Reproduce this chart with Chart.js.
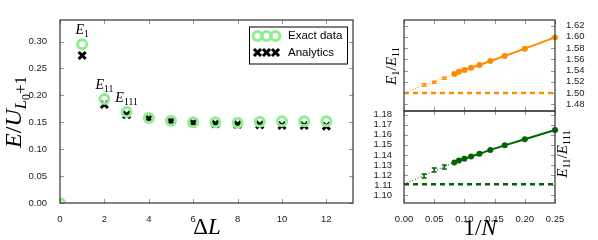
<!DOCTYPE html>
<html>
<head>
<meta charset="utf-8">
<script src="https://cdn.jsdelivr.net/npm/chart.js@4.4.0/dist/chart.umd.min.js"></script>
<style>
    html, body { margin: 0; padding: 0; background: #fff; }
    #wrap { position: relative; width: 598px; height: 240px; }
    #wrap canvas { position: absolute; left: 0; top: 0; }
</style>
</head>
<body>
<div id="wrap">
    <canvas id="gapChart" width="598" height="240"></canvas>
    <canvas id="ratioTop" width="598" height="240"></canvas>
    <canvas id="ratioBottom" width="598" height="240"></canvas>
</div>
<script>
// left panel: energies vs ΔL
const deltaL = [0, 1, 2, 3, 4, 5, 6, 7, 8, 9, 10, 11, 12];
const exactData = [0.000, 0.295, 0.193, 0.169, 0.158, 0.153, 0.150, 0.150, 0.149, 0.151, 0.152, 0.152, 0.152];
const analytics = [null, 0.274, 0.183, 0.164, 0.157, 0.152, 0.149, 0.147, 0.146, 0.145, 0.144, 0.144, 0.143];
const peakLabels = ['1', '11', '111']; // E_1, E_11, E_111 at ΔL = 1, 2, 3

// right panels: ratios vs 1/N
const invN = [0.0833, 0.0909, 0.1, 0.1111, 0.125, 0.1429, 0.1667, 0.2, 0.25];
const ratio1 = [1.534, 1.538, 1.541, 1.545, 1.550, 1.557, 1.566, 1.579, 1.599];
const ratio2 = [1.1326, 1.1345, 1.1362, 1.1385, 1.1411, 1.1450, 1.1495, 1.1555, 1.1647];
const invNErr = [0.0333, 0.05, 0.0667];
const ratio1Err = [1.5145, 1.519, 1.5265];
const ratio1ErrSize = [0.0018, 0.0018, 0.0018];
const ratio2Err = [1.119, 1.125, 1.128];
const ratio2ErrSize = [0.002, 0.002, 0.002];
const limitX = [0, 0.25];
const ratio1Limit = 1.500;
const ratio2Limit = 1.111;

const ORANGE = '#ff8c00';
const GREEN = '#006400';
const LIGHTGREEN = '#90ee90';
const SERIF = '"Liberation Serif", "DejaVu Serif", serif';

Chart.defaults.font.family = '"Liberation Sans", Arial, sans-serif';
Chart.defaults.font.size = 9.5;
Chart.defaults.color = '#222';

const pts = (xs, ys) => xs.map((x, i) => ({ x: x, y: ys[i] })).filter(p => p.y !== null);

// text with subscripts; segs = [text, level, italic]; (cx, cy) = middle of the main glyphs
function drawMath(ctx, segs, cx, cy, size, rot) {
    const scale = [1, 0.7, 0.5];
    const drop = [0, 0.22, 0.36];
    ctx.save();
    ctx.translate(cx, cy);
    if (rot) ctx.rotate(rot);
    let w = 0;
    const parts = segs.map(([t, lv, it]) => {
        const f = (it ? 'italic ' : '') + (size * scale[lv]) + 'px ' + SERIF;
        ctx.font = f;
        const p = { t: t, f: f, x: w, dy: size * drop[lv] };
        w += ctx.measureText(t).width;
        return p;
    });
    ctx.fillStyle = '#000';
    ctx.textAlign = 'left';
    ctx.textBaseline = 'alphabetic';
    parts.forEach(p => {
        ctx.font = p.f;
        ctx.fillText(p.t, p.x - w / 2, size * 0.34 + p.dy);
    });
    ctx.restore();
}

// box + inward ticks on all sides
const framePlugin = {
    id: 'frame',
    afterDatasetsDraw(chart) {
        const { ctx, chartArea: a, scales } = chart;
        const tl = 4;
        ctx.save();
        ctx.strokeStyle = '#999';
        ctx.lineWidth = 1;
        ctx.beginPath();
        scales.x.ticks.forEach(t => {
            const px = Math.round(scales.x.getPixelForValue(t.value)) + 0.5;
            ctx.moveTo(px, a.top); ctx.lineTo(px, a.top + tl);
            ctx.moveTo(px, a.bottom); ctx.lineTo(px, a.bottom - tl);
        });
        scales.y.ticks.forEach(t => {
            const py = Math.round(scales.y.getPixelForValue(t.value)) + 0.5;
            ctx.moveTo(a.left, py); ctx.lineTo(a.left + tl, py);
            ctx.moveTo(a.right, py); ctx.lineTo(a.right - tl, py);
        });
        ctx.stroke();
        ctx.strokeStyle = '#333';
        ctx.lineWidth = 1.2;
        ctx.strokeRect(a.left, a.top, a.right - a.left, a.bottom - a.top);
        ctx.restore();
    }
};

const errBars = {
    id: 'errBars',
    afterDatasetsDraw(chart) {
        const { ctx, scales: { x, y } } = chart;
        chart.data.datasets.forEach(ds => {
            if (!ds.errors) return;
            ctx.save();
            ctx.strokeStyle = ds.borderColor;
            ctx.lineWidth = 1.5;
            ds.data.forEach((p, i) => {
                const px = x.getPixelForValue(p.x);
                const top = y.getPixelForValue(p.y + ds.errors[i]);
                const bot = y.getPixelForValue(p.y - ds.errors[i]);
                ctx.beginPath();
                ctx.moveTo(px, top); ctx.lineTo(px, bot);
                ctx.moveTo(px - 2.5, top); ctx.lineTo(px + 2.5, top);
                ctx.moveTo(px - 2.5, bot); ctx.lineTo(px + 2.5, bot);
                ctx.stroke();
            });
            ctx.restore();
        });
    }
};

function marker(ctx, ds, x, y) {
    ctx.save();
    ctx.strokeStyle = ds.pointBorderColor;
    ctx.lineWidth = ds.pointBorderWidth;
    ctx.beginPath();
    if (ds.pointStyle === 'crossRot') {
        const o = ds.pointRadius * Math.SQRT1_2;
        ctx.moveTo(x - o, y - o); ctx.lineTo(x + o, y + o);
        ctx.moveTo(x - o, y + o); ctx.lineTo(x + o, y - o);
    } else {
        ctx.arc(x, y, ds.pointRadius, 0, Math.PI * 2);
    }
    ctx.stroke();
    ctx.restore();
}

const legendBox = {
    id: 'legendBox',
    afterDraw(chart) {
        const { ctx, chartArea: a } = chart;
        const x0 = a.right - 104, y0 = a.top + 6.5;
        ctx.save();
        ctx.fillStyle = '#fff';
        ctx.fillRect(x0, y0, 98.5, 37.5);
        ctx.strokeStyle = '#000';
        ctx.lineWidth = 1;
        ctx.strokeRect(x0 + 0.5, y0 + 0.5, 98, 37);
        ctx.font = '11.5px "Liberation Sans", Arial, sans-serif';
        ctx.fillStyle = '#000';
        ctx.textBaseline = 'middle';
        chart.data.datasets.forEach((ds, i) => {
            const cy = y0 + 9.5 + i * 16.5;
            for (let k = 0; k < 3; k++) marker(ctx, ds, x0 + 8.5 + k * 9, cy);
            ctx.fillText(ds.label, x0 + 39, cy);
        });
        ctx.restore();
    }
};

const leftLabels = {
    id: 'leftLabels',
    afterDraw(chart) {
        const { ctx, scales: { x, y } } = chart;
        peakLabels.forEach((s, i) => {
            const px = x.getPixelForValue(deltaL[i + 1]);
            const py = y.getPixelForValue(exactData[i + 1]);
            drawMath(ctx, [['E', 0, true], [s, 1, false]], px, py - 15, 14, 0);
        });
        drawMath(ctx, [['E', 0, true], ['/', 0, false], ['U', 0, true], ['L', 1, true], ['0', 2, false], ['+1', 1, false]], 13, 112, 24, -Math.PI / 2);
        drawMath(ctx, [['\u0394', 0, false], ['L', 0, true]], 207, 226, 23, 0);
    }
};

const xRight = {
    type: 'linear', min: 0, max: 0.25,
    ticks: { stepSize: 0.05, includeBounds: false, autoSkip: false, padding: 3, callback: v => v.toFixed(2) },
    grid: { display: false }, border: { display: false }
};

const baseOpts = {
    responsive: false,
    animation: false,
    devicePixelRatio: 1,
    events: [],
    plugins: { legend: { display: false }, tooltip: { enabled: false } }
};

new Chart(document.getElementById('gapChart'), {
    type: 'scatter',
    data: {
        datasets: [
            {
                label: 'Exact data',
                data: pts(deltaL, exactData),
                pointStyle: 'circle', pointRadius: 4.5, pointBorderWidth: 3,
                pointBorderColor: LIGHTGREEN, pointBackgroundColor: 'rgba(0,0,0,0)',
                borderColor: LIGHTGREEN, clip: 0
            },
            {
                label: 'Analytics',
                data: pts(deltaL, analytics),
                pointStyle: 'crossRot', pointRadius: 5, pointBorderWidth: 3,
                pointBorderColor: '#000', pointBackgroundColor: '#000',
                borderColor: '#000', clip: 0
            }
        ]
    },
    options: Object.assign({}, baseOpts, {
        layout: { padding: { left: 25, top: 20, right: 245, bottom: 17 } },
        scales: {
            x: {
                type: 'linear', min: 0, max: 13.2,
                ticks: { stepSize: 2, includeBounds: false, autoSkip: false, padding: 3 },
                grid: { display: false }, border: { display: false },
                afterFit: s => { s.height = 20; }
            },
            y: {
                min: 0, max: 0.34,
                ticks: { stepSize: 0.05, includeBounds: false, autoSkip: false, padding: 5, callback: v => v.toFixed(2) },
                grid: { display: false }, border: { display: false },
                afterFit: s => { s.width = 35; }
            }
        }
    }),
    plugins: [framePlugin, legendBox, leftLabels]
});

function ratioSets(color, ys, limit, errYs, errSize) {
    return [
        {
            data: pts(limitX, [limit, limit]), showLine: true,
            borderColor: color, borderWidth: 2.5, borderDash: [5, 4], pointRadius: 0
        },
        {
            data: pts([0, invN[0]], [limit, ys[0]]), showLine: true,
            borderColor: color, borderWidth: 1, borderDash: [1, 2], pointRadius: 0
        },
        {
            data: pts(invN, ys), showLine: true,
            borderColor: color, backgroundColor: color, borderWidth: 2,
            pointBackgroundColor: color, pointRadius: 3, pointBorderWidth: 0, clip: false
        },
        {
            data: pts(invNErr, errYs), errors: errSize,
            borderColor: color, pointRadius: 0
        }
    ];
}

new Chart(document.getElementById('ratioTop'), {
    type: 'scatter',
    data: { datasets: ratioSets(ORANGE, ratio1, ratio1Limit, ratio1Err, ratio1ErrSize) },
    options: Object.assign({}, baseOpts, {
        layout: { padding: { left: 404, top: 20, right: 0, bottom: 129 } },
        scales: {
            x: Object.assign({}, xRight, {
                ticks: { stepSize: 0.05, includeBounds: false, display: false },
                afterFit: s => { s.height = 0; }
            }),
            y: {
                position: 'right', min: 1.468, max: 1.63,
                ticks: { stepSize: 0.02, includeBounds: false, autoSkip: false, padding: 3, callback: v => v.toFixed(2) },
                grid: { display: false }, border: { display: false },
                afterFit: s => { s.width = 43; }
            }
        }
    }),
    plugins: [framePlugin, errBars, {
        id: 'topLabel',
        afterDraw(chart) {
            drawMath(chart.ctx, [['E', 0, true], ['1', 1, false], ['/', 0, false], ['E', 0, true], ['11', 1, false]], 391, 66, 15, -Math.PI / 2);
        }
    }]
});

new Chart(document.getElementById('ratioBottom'), {
    type: 'scatter',
    data: { datasets: ratioSets(GREEN, ratio2, ratio2Limit, ratio2Err, ratio2ErrSize) },
    options: Object.assign({}, baseOpts, {
        layout: { padding: { left: 360, top: 111, right: 43, bottom: 17 } },
        scales: {
            x: Object.assign({}, xRight, { afterFit: s => { s.height = 20; } }),
            y: {
                min: 1.0923, max: 1.1836,
                ticks: { stepSize: 0.01, includeBounds: false, autoSkip: false, padding: 4, callback: v => v.toFixed(2) },
                grid: { display: false }, border: { display: false },
                afterFit: s => { s.width = 44; }
            }
        }
    }),
    plugins: [framePlugin, errBars, {
        id: 'bottomLabels',
        afterDraw(chart) {
            drawMath(chart.ctx, [['E', 0, true], ['11', 1, false], ['/', 0, false], ['E', 0, true], ['111', 1, false]], 562, 154, 15, -Math.PI / 2);
            drawMath(chart.ctx, [['1/', 0, false], ['N', 0, true]], 480, 227, 23, 0);
        }
    }]
});
</script>
</body>
</html>
